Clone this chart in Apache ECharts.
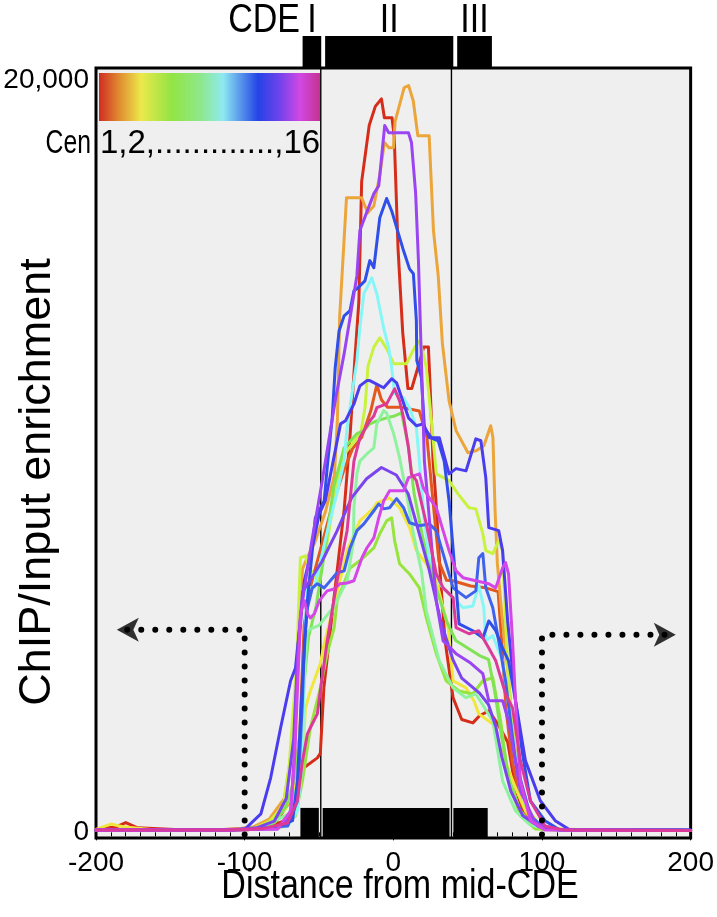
<!DOCTYPE html>
<html><head><meta charset="utf-8">
<script src="https://cdn.jsdelivr.net/npm/echarts@6/dist/echarts.min.js"></script>
<style>html,body{margin:0;padding:0;background:#fff}#chart{width:717px;height:917px}</style>
</head><body><div id="chart"></div>
<script>
// ---------- data ----------
const xTickValues = [-200, -100, 0, 100, 200];
const yTickValues = [0, 20000];
const yTickLabels = ['0', '20,000'];
const cdeSegments = [[-62.5, -50.1], [-47.5, 37.8], [40.4, 63.5]];
const cdeBoundaries = [-48.8, 39.1];
const cdeLabels = ['I', 'II', 'III'];
const cenNames = ['Cen1','Cen2','Cen3','Cen4','Cen5','Cen6','Cen7','Cen8','Cen9','Cen10','Cen11','Cen12','Cen13','Cen14','Cen15','Cen16'];
const cenColors = ['#d62d1a','#e2581f','#eca53a','#f0e63c','#c9f23e','#96e43c','#7fe353','#8ff29e','#86f6f6','#3f63ec','#2f4fe8','#4a3cef','#7a44ef','#9a44f2','#d446e8','#dc3a98'];

const cen1 = [[-200,80],[-186,150],[-180,260],[-172,120],[-140,60],[-98,70],[-84,130],[-74,300],[-66,700],[-61.1,1690],[-51.1,1980],[-49.1,2100],[-46.7,3850],[-40,6200],[-33,8600],[-29,10600],[-26,12500],[-23.2,14100],[-21.3,17300],[-16.2,18800],[-12.1,19300],[-8,19500],[-6,19000],[-0.9,19000],[0.6,18500],[3.2,15500],[6.3,13300],[9.8,11800],[12.4,11800],[20.5,12900],[23.6,12900],[24.6,12000],[26.7,9900],[28.7,8800],[31.8,6700],[34.8,5100],[40.2,3580],[46,3000],[53.5,2910],[58,3100],[64.2,3230],[70,2900],[76.9,2400],[82.2,1180],[88,450],[96,150],[110,70],[200,50]];
const cen2 = [[-200,60],[-120,60],[-93.7,120],[-78.4,300],[-68.2,900],[-63.1,2500],[-60,5500],[-56,6500],[-49.8,7400],[-41.7,8600],[-33.5,9600],[-27.4,10200],[-21.3,10500],[-15.2,11200],[-11.1,11900],[-8,11500],[-3.9,11300],[5.2,11300],[17.5,11200],[22.6,10500],[26.7,8800],[30.7,7200],[35.8,6700],[40,6690],[52,6550],[62.2,6500],[70.5,6400],[73,5000],[76,3200],[80,1900],[86,800],[93,250],[105,80],[200,50]];
const cen3 = [[-200,60],[-150,60],[-109,70],[-93.7,150],[-83.5,350],[-73.3,900],[-68.2,2200],[-64.1,4500],[-61.1,7000],[-58,7300],[-52.9,7700],[-45.8,8500],[-39.6,9500],[-37.6,11000],[-36.1,13700],[-31.5,16870],[-21.3,16870],[-17.2,16470],[-13.1,16650],[-9,17500],[-6,18340],[-2.9,18200],[0.1,18200],[1.2,18900],[7.3,19800],[10.3,19850],[13.4,19450],[16.5,18520],[24.1,18520],[27,16000],[30.2,14800],[33,13000],[37.5,11470],[42.2,10680],[50.2,10090],[56,10150],[60.9,10280],[65.5,10810],[67,10500],[68.5,8500],[70,7140],[73,5800],[77,4300],[81,2500],[86,1200],[92,450],[100,150],[110,70],[200,50]];
const cen4 = [[-200,80],[-190,220],[-182,150],[-160,60],[-108,60],[-93,100],[-83,250],[-73,600],[-66,1200],[-63,1800],[-61.1,2090],[-59.8,2780],[-59.1,3310],[-55.8,3760],[-49.1,4480],[-46.5,5010],[-33.1,7140],[-31.1,7490],[-22.5,8280],[-13.1,8630],[-11.1,8760],[-2.5,8890],[4.2,8630],[10.9,8100],[15.5,7490],[22.2,7140],[28.9,6690],[33.5,5970],[36.9,5440],[40.2,4030],[48.9,3840],[54.2,3500],[57.5,3150],[66.9,2880],[73.5,2090],[82.2,1180],[88.9,570],[96,200],[110,80],[200,50]];
const cen5 = [[-200,70],[-150,60],[-108,60],[-93,120],[-83,300],[-74,700],[-70,1800],[-65,4500],[-62.5,7300],[-59.1,7350],[-56.5,7030],[-51.1,6690],[-45,7600],[-38,9300],[-33,10060],[-22,10600],[-19,11300],[-17,12400],[-13.1,12900],[-9.1,13150],[-4.5,12860],[0.2,12460],[8.9,12460],[14.2,12880],[17.5,13070],[20.2,12720],[22.2,12350],[26.9,10410],[28.9,9530],[37.5,9350],[43.5,9000],[50.9,8630],[55.5,8600],[60.2,7940],[62.2,7490],[66.9,7410],[70.9,7750],[73.5,7490],[75.5,5620],[77.5,4030],[82.2,1900],[88.9,700],[98.9,170],[115,70],[200,50]];
const cen6 = [[-200,60],[-110,60],[-90,80],[-74.5,150],[-65.8,440],[-61.1,1370],[-55.8,2780],[-49.1,3840],[-44.5,4750],[-39.8,5440],[-37.8,6160],[-29.1,7030],[-22.5,7220],[-13.1,7560],[-9.1,7940],[-4.5,8280],[-1.1,8360],[0.9,7750],[4.2,7140],[10.9,6870],[17.5,6500],[22.2,5700],[28.9,4750],[35.5,4030],[44.2,3760],[53.5,3680],[60.2,4030],[66.9,4110],[72.2,2960],[77.5,1370],[85.5,440],[95.5,90],[110,60],[200,50]];
const cen7 = [[-200,60],[-110,60],[-90,100],[-80,250],[-72,700],[-66,1500],[-63,2600],[-60,4000],[-57,5200],[-52,6000],[-46,7500],[-40,9200],[-33.1,10220],[-24.5,10600],[-19.8,10680],[-15.8,10860],[-11.1,10940],[-4.5,11020],[0.9,11070],[5.5,11150],[10,10300],[14,9000],[20,7800],[28,6600],[36,5600],[42,5100],[50,4900],[58,4700],[64,4600],[68,3800],[73,2500],[78,1400],[85,600],[93,200],[108,70],[200,50]];
const cen8 = [[-200,60],[-110,60],[-90,120],[-80,300],[-70,500],[-65,1200],[-62,2500],[-60,4000],[-58,5300],[-56,5400],[-50,5500],[-40,6000],[-31,6700],[-26.8,7750],[-26.5,8630],[-24.5,9530],[-22.5,9870],[-17.8,10060],[-13.1,10220],[-11.1,10860],[-6.5,11210],[-4.5,11150],[0.2,10600],[4.2,9960],[8.9,9000],[13.5,7940],[18.9,6950],[22.2,5890],[30.9,4560],[40.2,3840],[48.9,3580],[55.5,3680],[60,3400],[66.9,2960],[73.5,1370],[82.2,570],[92,200],[108,70],[200,50]];
const cen9 = [[-200,60],[-110,60],[-90,100],[-78,150],[-71,170],[-64.5,570],[-61.1,1900],[-59.8,4370],[-59.1,5620],[-57.8,6500],[-53.1,6500],[-45,7900],[-38,9000],[-33.1,9870],[-31.1,10760],[-27.8,11660],[-24.5,12540],[-22.5,13410],[-19.8,14320],[-14.5,14740],[-11.1,14320],[-6.5,13410],[-3.1,12880],[-1.1,12350],[0.9,11660],[6.9,11550],[10.9,11290],[15.5,10760],[17.5,9870],[20.9,8280],[24.2,7300],[32.2,6560],[40.2,6240],[46.9,5970],[53.5,6020],[57.5,6560],[60.9,5970],[62.2,5090],[66.9,5230],[73.5,4560],[78.9,2960],[85.5,1100],[95.5,170],[110,60],[200,50]];
const cen10 = [[-200,60],[-110,60],[-90,100],[-80,150],[-71,170],[-64.5,840],[-61.1,3500],[-59.8,5090],[-57.8,5970],[-54.5,6500],[-51.1,6610],[-46.5,6500],[-37.8,6900],[-33.1,6950],[-29.1,7560],[-24.5,8020],[-19.8,8200],[-13.1,8550],[-9.8,8730],[-6.5,8600],[-2.5,8630],[2.2,8870],[6.9,8630],[10.9,8230],[17.5,8150],[24.2,8200],[28.9,8020],[33.5,7410],[40.2,6500],[48.9,6240],[55.5,6420],[57.5,7300],[60.2,7410],[62.2,6500],[66.9,5970],[70.9,5090],[75.5,4030],[82.2,1900],[92.2,440],[102,90],[115,60],[200,50]];
const cen11 = [[-200,60],[-110,60],[-90,90],[-78,150],[-67.8,310],[-64.5,1370],[-61.1,4030],[-57.8,6160],[-54.5,7490],[-52.5,8360],[-46.5,8810],[-44.5,9690],[-41.1,11020],[-39.1,12350],[-36.5,13330],[-33.1,13730],[-29.1,13870],[-26.5,14400],[-24.5,14450],[-19.1,14660],[-15.8,15200],[-13.1,15010],[-9.1,16340],[-4.5,16850],[-1.1,16520],[6.9,15460],[10.9,14980],[13.5,14850],[15.5,13600],[15.8,12540],[18.9,12090],[20.9,10760],[25.5,10490],[30.2,10410],[34.2,9870],[37.5,8810],[40.9,7220],[44.2,5540],[53.5,5360],[60.2,5170],[64.2,5620],[68.9,5360],[73.5,4900],[77.5,4560],[82.2,3500],[86.9,2090],[92.2,840],[102,310],[112,60],[125,60],[200,60]];
const cen12 = [[-200,60],[-130,70],[-111,60],[-99.8,90],[-89.1,490],[-82.5,1450],[-75.8,2780],[-69.1,4030],[-65.8,4370],[-59.8,6690],[-57.8,7030],[-53.1,7830],[-49.8,8470],[-45.8,8810],[-35.5,10860],[-32.2,10940],[-26.5,11390],[-22.5,11870],[-17.8,12010],[-15.8,12010],[-6.5,11820],[-1.1,12060],[2.2,11950],[10.2,11020],[15.5,10810],[20.2,10860],[24.2,10490],[30.9,10490],[37.5,9530],[42.2,9670],[48.9,9610],[55.5,10460],[58.9,10410],[62.2,9430],[64.2,8100],[70.9,8020],[73.5,7490],[76.9,5620],[82.2,3500],[88.9,1900],[98.9,840],[108.9,310],[118.9,60],[130,60],[200,60]];
const cen13 = [[-200,60],[-110,60],[-92,120],[-80,300],[-72,900],[-67,2500],[-64,5000],[-61,6400],[-56,6700],[-48,7200],[-38,8000],[-28,8900],[-18,9400],[-8,9700],[2,9500],[10,9000],[17,8000],[24,7000],[32,5600],[40,4600],[46,4100],[52,3900],[58,3700],[64,3400],[69,2800],[73,2000],[79,1100],[87,450],[98,150],[112,70],[200,50]];
const cen14 = [[-200,50],[-110,60],[-90,80],[-77.8,90],[-69.1,440],[-66.5,2170],[-64.5,4560],[-61.1,6160],[-55,7700],[-48,9300],[-39.1,11470],[-33.1,12720],[-29.1,13680],[-24.5,14800],[-22.5,16000],[-13.1,16980],[-9.8,17190],[-5.8,18790],[-3.1,18600],[10.2,18600],[12.2,18340],[15,17000],[16.9,15200],[20.9,9870],[25.5,7750],[28.9,6160],[33.5,5090],[42.2,4750],[52,4500],[60.2,4220],[64.2,3500],[73.5,3500],[77.5,2960],[85.5,1100],[95.5,250],[110,70],[200,50]];
const cen15 = [[-200,60],[-110,60],[-90,80],[-77.8,90],[-69.1,570],[-66.5,1900],[-64.5,3760],[-63.1,5090],[-62.5,5810],[-59.8,6160],[-57.8,5810],[-55.8,5700],[-53.1,5810],[-49.8,6160],[-44.5,6420],[-39.8,6470],[-35.8,6610],[-31.1,6630],[-26.5,6690],[-21.1,7300],[-17.8,7560],[-13.1,7830],[-9.8,8360],[-6.5,8810],[-2.5,9080],[6.9,9080],[10.2,9430],[17.5,9530],[20.2,9160],[24.2,8890],[28.9,8630],[33.5,8020],[37.5,7490],[42.2,6950],[46.9,6770],[55.5,6690],[64.2,6610],[68.9,6500],[73.5,7030],[75.5,7170],[77.5,6870],[80.2,5090],[82.2,3500],[85.5,1370],[92.2,310],[102,60],[200,50]];
const cen16 = [[-200,60],[-110,60],[-88,100],[-71.1,250],[-64.5,840],[-61.1,1900],[-57.8,2620],[-55.8,2780],[-51.1,3150],[-49.1,3760],[-44.5,5090],[-37.8,6690],[-31.1,8020],[-26.5,9870],[-22.5,10490],[-15.8,10940],[-13.1,11070],[-11.1,11290],[-4.5,11390],[0.9,11790],[2.2,11790],[4.2,11470],[6.9,11020],[10.2,10220],[12.2,9530],[15.5,9350],[22.2,8200],[28.9,6870],[33.5,6500],[40.2,6240],[42.2,5440],[50.9,5280],[57.5,5360],[64.2,4900],[68.9,4560],[75.5,3680],[80.2,3310],[85.5,1900],[92.2,840],[102,170],[115,60],[200,50]];
const curves = [cen1,cen2,cen3,cen4,cen5,cen6,cen7,cen8,cen9,cen10,cen11,cen12,cen13,cen14,cen15,cen16];

const leftArrowPath = [[-100,-60],[-100,5385],[-183,5385]];
const rightArrowPath = [[100,-60],[100,5250],[188,5250]];
const arrowHeads = [[-186,5385,90],[190,5250,-90]];

// ---------- styling constants ----------
const Y_MIN = -150, Y_MAX = 20320, BAR_TOP = 650;
const FONT = "'Liberation Sans',Arial,Helvetica,sans-serif";
const NARROW_SCALE = 0.83;

const chart = echarts.init(document.getElementById('chart'), null, {renderer:'canvas'});

const curveSeries = curves.map((d, i) => ({
  type:'line', name:cenNames[i], data:d, symbol:'none', showSymbol:false, smooth:false,
  xAxisIndex:0, yAxisIndex:0, z:3, clip:true, silent:true,
  lineStyle:{width:3, color:cenColors[i], join:'round', cap:'round'}
}));

const boundarySeries = cdeBoundaries.map(b => ({
  type:'line', data:[[b, Y_MIN],[b, Y_MAX]], symbol:'none', z:2, silent:true,
  lineStyle:{width:1.4, color:'#000'}
}));

const barRender = (yLow, yHigh) => (params, api) => {
  const p0 = api.coord([api.value(0), yHigh]);
  const p1 = api.coord([api.value(1), yLow]);
  return {type:'rect', shape:{x:p0[0], y:p0[1], width:p1[0]-p0[0], height:p1[1]-p0[1]}, style:{fill:'#000'}};
};

const option = {
  animation:false,
  backgroundColor:'#fff',
  grid:[
    {left:96, right:20, top:68, bottom:79, show:true, backgroundColor:'#efefef', borderColor:'#000', borderWidth:3, z:0},
    {left:96, right:20, top:36, height:32, show:false}
  ],
  xAxis:[
    {type:'value', gridIndex:0, min:-200, max:200, interval:100,
     axisLine:{show:false}, splitLine:{show:false},
     axisTick:{show:true, inside:false, length:8, lineStyle:{color:'#000', width:1}},
     minorTick:{show:true, splitNumber:10, length:4, lineStyle:{color:'#000', width:1}},
     axisLabel:{color:'#000', fontSize:28, fontFamily:FONT, margin:11, customValues:xTickValues, formatter:v=>String(v)}},
    {type:'value', gridIndex:1, min:-200, max:200, show:false}
  ],
  yAxis:[
    {type:'value', gridIndex:0, min:Y_MIN, max:Y_MAX,
     axisLine:{show:false}, axisTick:{show:false}, splitLine:{show:false},
     axisLabel:{color:'#000', fontSize:28, fontFamily:FONT, margin:7, customValues:yTickValues,
       formatter:v=>{const k=yTickValues.indexOf(v); return k>=0?yTickLabels[k]:'';}}},
    {type:'value', gridIndex:1, min:0, max:1, show:false}
  ],
  series:[
    ...boundarySeries,
    ...curveSeries,
    {type:'custom', xAxisIndex:0, yAxisIndex:0, z:6, silent:true, clip:true,
     data:cdeSegments, encode:{x:[0,1]}, renderItem:barRender(Y_MIN, BAR_TOP)},
    {type:'custom', xAxisIndex:1, yAxisIndex:1, z:6, silent:true,
     data:cdeSegments, encode:{x:[0,1]}, renderItem:barRender(0, 1)},
    {type:'custom', xAxisIndex:1, yAxisIndex:1, z:6, silent:true, clip:false,
     data:cdeSegments.map((s,i)=>[(s[0]+s[1])/2, i]), encode:{x:0},
     renderItem:(params, api)=>{
       const p = api.coord([api.value(0), 1]);
       return {type:'text', x:p[0], y:p[1]-15, scaleX:NARROW_SCALE,
         style:{text:cdeLabels[api.value(1)], fontSize:41, fontFamily:FONT, fill:'#000', align:'center', verticalAlign:'middle'}};
     }},
    {type:'line', data:leftArrowPath, symbol:'none', z:5, silent:true,
     lineStyle:{color:'#000', width:6, type:[0.01,14], cap:'round'}},
    {type:'line', data:rightArrowPath, symbol:'none', z:5, silent:true,
     lineStyle:{color:'#000', width:6, type:[0.01,14], cap:'round'}},
    {type:'scatter', z:5, silent:true, symbol:'arrow', symbolSize:[18,22],
     data:arrowHeads.map(a=>({value:[a[0],a[1]], symbolRotate:a[2]})), itemStyle:{color:'#000'}}
  ],
  graphic:[
    {type:'text', x:300, y:21, scaleX:NARROW_SCALE, style:{text:'CDE', fontSize:41, fontFamily:FONT, fill:'#000', align:'right', verticalAlign:'middle'}},
    {type:'rect', shape:{x:99, y:73, width:221, height:48}, z:10,
     style:{fill:new echarts.graphic.LinearGradient(0,0,1,0,[
       {offset:0, color:'#cf2d22'},{offset:0.09, color:'#e08a30'},{offset:0.19, color:'#ece84a'},
       {offset:0.33, color:'#92e444'},{offset:0.46, color:'#8ee88a'},{offset:0.56, color:'#8eeaf0'},
       {offset:0.72, color:'#2443e6'},{offset:0.81, color:'#6a42ec'},{offset:0.91, color:'#d148e4'},
       {offset:1, color:'#c53290'}])}},
    {type:'text', x:100, y:144, z:10, style:{text:'1,2,.............,16', fontSize:33, fontFamily:FONT, fill:'#000', align:'left', verticalAlign:'middle'}},
    {type:'text', x:91, y:144, z:10, scaleX:0.75, style:{text:'Cen', fontSize:33, fontFamily:FONT, fill:'#000', align:'right', verticalAlign:'middle'}},
    {type:'text', x:400, y:887, scaleX:NARROW_SCALE, style:{text:'Distance from mid-CDE', fontSize:41, fontFamily:FONT, fill:'#000', align:'center', verticalAlign:'middle'}},
    {type:'text', x:38, y:482, rotation:Math.PI/2, style:{text:'ChIP/Input enrichment', fontSize:45, fontFamily:FONT, fill:'#000', align:'center', verticalAlign:'middle'}}
  ]
};
chart.setOption(option);
</script></body></html>
